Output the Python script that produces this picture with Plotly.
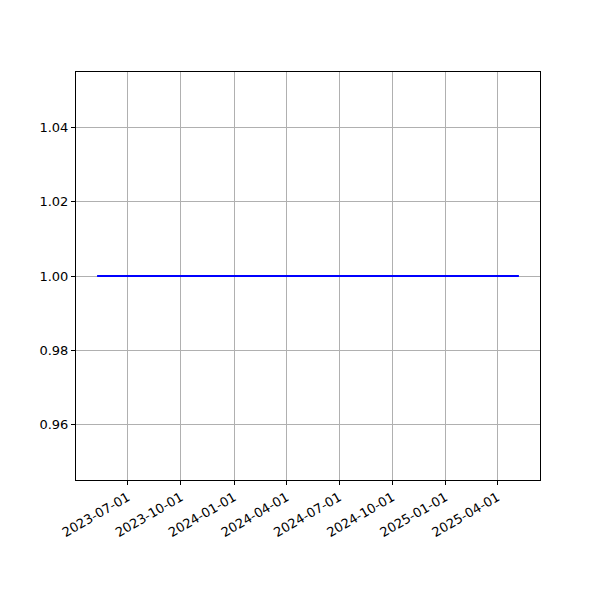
import plotly.graph_objects as go

dates = ["2023-05-09", "2025-05-08"]
values = [1.0, 1.0]
x_ticks = ["2023-07-01", "2023-10-01", "2024-01-01", "2024-04-01",
           "2024-07-01", "2024-10-01", "2025-01-01", "2025-04-01"]
y_ticks = [0.96, 0.98, 1.00, 1.02, 1.04]

fig = go.Figure()
fig.add_trace(go.Scatter(x=dates, y=values, mode="lines",
                         line=dict(color="#0000ff", width=2), showlegend=False))

axis_common = dict(showgrid=True, gridcolor="#b0b0b0", gridwidth=0.8,
                   showline=True, linecolor="black", linewidth=1, mirror=True,
                   ticks="outside", ticklen=4, tickwidth=1, tickcolor="black",
                   zeroline=False, tickfont=dict(family="DejaVu Sans", size=13, color="black"))

fig.update_layout(
    width=600, height=600,
    paper_bgcolor="white", plot_bgcolor="white",
    margin=dict(l=68, r=68, t=64, b=128),
    xaxis=dict(**axis_common, range=["2023-04-02 12:00", "2025-06-13 12:00"],
               tickvals=x_ticks, ticktext=x_ticks, tickangle=-30),
    yaxis=dict(**axis_common, range=[0.945, 1.055], tickvals=y_ticks,
               ticktext=[f"{v:.2f}" for v in y_ticks]),
)
fig.write_html("out.html")
